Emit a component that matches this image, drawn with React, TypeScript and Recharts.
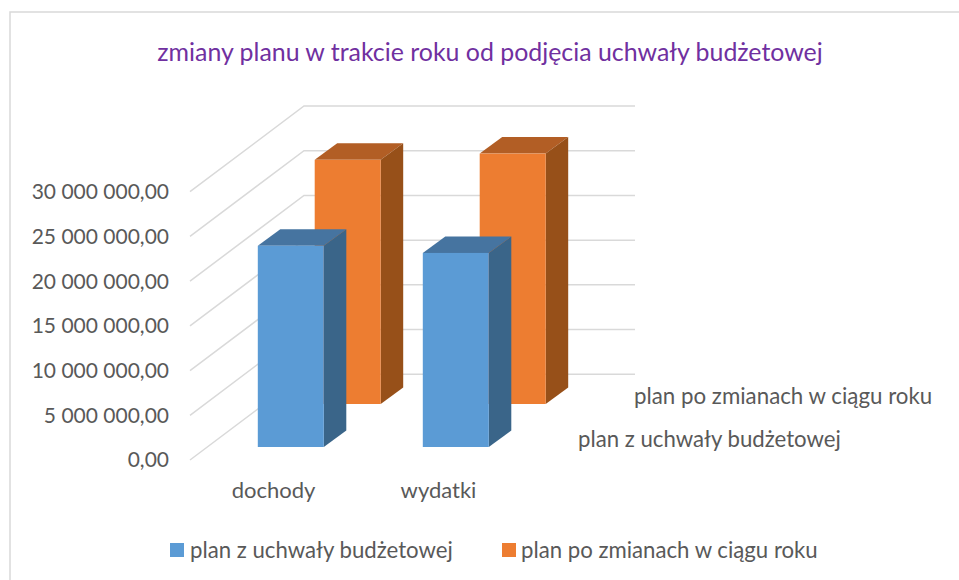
import React from "react";
import { BarChart, Bar, XAxis, YAxis, CartesianGrid, Legend } from "recharts";

const categories = ["dochody", "wydatki"];
const planUchwala = [22500000, 21700000];
const planZmiany = [27300000, 28000000];
const yTicks = [0, 5000000, 10000000, 15000000, 20000000, 25000000, 30000000];
const titleText = "zmiany planu w trakcie roku od podjęcia uchwały budżetowej";
const seriesUchwala = "plan z uchwały budżetowej";
const seriesZmiany = "plan po zmianach w ciągu roku";

const data = categories.map((name, i) => ({ name, a: planUchwala[i], b: planZmiany[i] }));

const FONT = "Lato, Carlito, sans-serif";
const GREY = "#595959";

const fmt = (v: number) => {
  const s = String(Math.round(v)).replace(/\B(?=(\d{3})+$)/g, " ");
  return s + ",00";
};

const Bar3D = (colors: { front: string; top: string; side: string }, dx: number, dy: number) => (p: any) => {
  const x = p.x + dx;
  const y = p.y + dy;
  const w = p.width;
  const h = p.height;
  const ox = 22.5;
  const oy = 16.5;
  return (
    <g>
      <polygon points={`${x},${y} ${x + ox},${y - oy} ${x + w + ox},${y - oy} ${x + w},${y}`} fill={colors.top} />
      <polygon points={`${x + w},${y} ${x + w + ox},${y - oy} ${x + w + ox},${y + h - oy} ${x + w},${y + h}`} fill={colors.side} />
      <rect x={x} y={y} width={w} height={h} fill={colors.front} />
    </g>
  );
};

const wall = (p: any) => (
  <polyline
    key={p.key ?? p.y1}
    points={`${p.x1},${p.y1} ${p.x1 + 114},${p.y1 - 85.7} 635,${p.y1 - 85.7}`}
    fill="none"
    stroke="#d9d9d9"
    strokeWidth={1.5}
  />
);

const legendContent = () => (
  <div style={{ position: "relative", width: 959, height: 30, fontFamily: FONT, fontSize: 22.2, color: GREY }}>
    <span style={{ position: "absolute", left: 170, top: 8, width: 14, height: 14, background: "#5B9BD5" }} />
    <span style={{ position: "absolute", left: 190, top: 2, whiteSpace: "nowrap", lineHeight: "26px" }}>{seriesUchwala}</span>
    <span style={{ position: "absolute", left: 502, top: 8, width: 14, height: 14, background: "#ED7D31" }} />
    <span style={{ position: "absolute", left: 521, top: 2, whiteSpace: "nowrap", lineHeight: "26px" }}>{seriesZmiany}</span>
  </div>
);

export default function App() {
  return (
    <div style={{ position: "absolute", left: 0, top: 0, width: 959, height: 580, background: "#fff", overflow: "hidden" }}>
      <BarChart
        width={959}
        height={580}
        data={data}
        margin={{ left: 10, top: 191.7, right: 439, bottom: 30 }}
        barGap={-66}
        barSize={66}
      >
        <polyline points="10,580 10,12 959,12" fill="none" stroke="#d9d9d9" strokeWidth={1.5} />
        <text x={490} y={61} textAnchor="middle" fontFamily={FONT} fontSize={24.9} fill="#7030A0">{titleText}</text>
        <CartesianGrid vertical={false} horizontal={wall} />
        <XAxis
          dataKey="name"
          axisLine={false}
          tickLine={false}
          tick={{ fontFamily: FONT, fontSize: 22, fill: GREY, dx: 1 }}
          tickMargin={16}
          height={60}
        />
        <YAxis
          domain={[0, 30000000]}
          ticks={yTicks}
          tickFormatter={fmt}
          axisLine={false}
          tickLine={false}
          width={180}
          tickMargin={15}
          tick={{ fontFamily: FONT, fontSize: 21, fill: GREY }}
        />
        <Bar dataKey="b" name={seriesZmiany} isAnimationActive={false} fill="#ED7D31"
          shape={Bar3D({ front: "#ED7D31", top: "#B25E25", side: "#975019" }, 74.7, -56)} />
        <Bar dataKey="a" name={seriesUchwala} isAnimationActive={false} fill="#5B9BD5"
          shape={Bar3D({ front: "#5B9BD5", top: "#4674A0", side: "#3A6589" }, 17.8, -13)} />
        <text x={634} y={404} fontFamily={FONT} fontSize={22.3} fill={GREY}>{seriesZmiany}</text>
        <text x={578} y={447} fontFamily={FONT} fontSize={22.2} fill={GREY}>{seriesUchwala}</text>
        <Legend content={legendContent} wrapperStyle={{ left: 0, top: 535, width: 959 }} />
      </BarChart>
    </div>
  );
}
